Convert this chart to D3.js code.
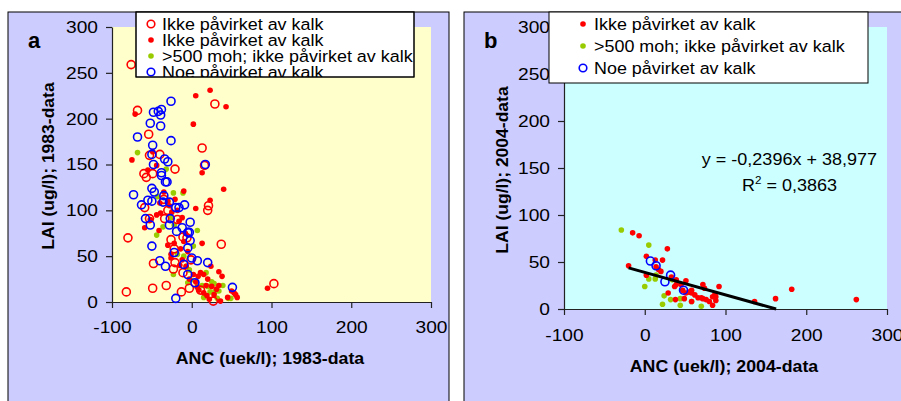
<!DOCTYPE html>
<html><head><meta charset="utf-8">
<script src="https://cdn.jsdelivr.net/npm/d3@7"></script>
<style>body{margin:0;background:#fff}svg{display:block}text{font-family:"Liberation Sans",Arial,sans-serif}</style>
</head><body>
<script>
// ---------- DATA ----------
const xTicks = [-100, 0, 100, 200, 300];
const yTicks = [0, 50, 100, 150, 200, 250, 300];
const legendA = ["Ikke påvirket av kalk", "Ikke påvirket av kalk", ">500 moh; ikke påvirket av kalk", "Noe påvirket av kalk"];
const legendB = ["Ikke påvirket av kalk", ">500 moh; ikke påvirket av kalk", "Noe påvirket av kalk"];
const trend = {slope: -0.2396, intercept: 38.977, xStart: -20};
const eqText = "y = -0,2396x + 38,977";
const r2Text = "0,3863";

// Panel a (1983)
const aRedOpen = [[-76,259],[-68,209],[-54,183],[13,168],[29,216],[-53,160],[-40,161],[16,149],[-21,145],[-60,140],[-57,136],[-49,140],[-59,103],[21,105],[20,100],[-53,91],[-34,91],[-18,90],[-80,70],[-26,68],[-11,71],[37,63],[-48,42],[-21,43],[-23,36],[-11,32],[-82,11],[-49,15],[-32,18],[-13,11],[-3,15],[103,20],[27,1],[11,13],[-1,46],[-30,100],[-35,112],[-22,58],[-6,70]];
const aRedFill = [[-71,205],[-75,155],[5,225],[23,231],[43,213],[2,194],[13,141],[40,123],[-10,121],[-21,112],[23,111],[5,102],[-44,95],[-39,97],[-59,81],[-41,78],[-12,92],[13,64],[-49,164],[-44,149],[-55,144],[-26,52],[-14,58],[-10,66],[-12,46],[-7,39],[11,32],[15,30],[24,39],[34,33],[5,22],[7,16],[9,13],[15,10],[19,7],[25,17],[36,1],[53,10],[57,5],[95,15],[38,28],[34,18],[31,14],[-22,64],[-26,48],[-28,105],[-25,98],[-16,88],[-35,120],[-30,110],[-18,100],[-8,75],[-5,55],[2,30],[8,28],[20,25],[28,8],[45,5],[50,12],[55,8],[-40,108],[-52,90],[-30,62],[-15,40],[-3,25],[18,18],[22,3]];
const aGreen = [[-68,163],[-32,145],[-43,115],[-23,119],[-11,119],[-44,73],[-36,82],[-26,92],[-22,84],[7,78],[2,61],[-18,52],[-23,30],[-7,39],[-1,24],[-5,21],[7,17],[13,18],[20,17],[28,20],[29,11],[39,18],[34,12],[49,4],[46,4],[32,4],[23,11],[18,32],[-30,110],[-10,50],[-3,35],[15,5],[25,22]];
const aBlue = [[-26,219],[-48,207],[-42,208],[-38,210],[-39,204],[-52,195],[-39,192],[-68,180],[-26,176],[-49,171],[-50,161],[-48,150],[-34,156],[-30,153],[17,150],[-38,141],[-38,138],[-33,131],[-31,131],[-73,117],[-50,124],[-47,120],[-63,106],[-55,111],[-50,110],[-35,116],[-36,109],[-28,109],[-20,103],[-16,103],[-9,106],[-58,91],[-52,84],[-27,91],[-28,84],[-19,77],[-12,81],[-5,76],[-3,76],[-2,87],[-2,67],[-50,61],[-22,54],[-5,59],[-40,45],[-33,39],[-10,41],[0,48],[7,45],[20,43],[-5,30],[4,21],[51,16],[-20,4]];

// Panel b (2004)
const bRed = [[-15,81],[-7,78],[-20,46],[2,56],[28,64],[22,52],[13,52],[2,36],[14,45],[20,40],[29,17],[51,30],[37,24],[39,26],[55,18],[58,17],[51,17],[72,26],[74,22],[92,24],[66,12],[70,12],[72,11],[76,10],[84,13],[88,13],[88,9],[84,4],[38,10],[49,11],[58,8],[136,8],[162,11],[182,21],[262,10],[47,20],[39,31],[58,20],[17,42],[45,26],[62,15],[80,8],[87,16],[33,34]];
const bGreen = [[-29,84],[5,68],[0,24],[5,32],[13,32],[14,36],[24,14],[22,5],[32,10],[44,11],[44,4],[58,8],[70,3],[34,31]];
const bBlue = [[7,51],[14,46],[25,29],[32,36],[48,20]];

// ---------- DRAW ----------
const RED = "#FF0000", GREEN = "#99CC00", BLUE = "#0000FF";
const SX = 1.13;    // horizontal stretch of the original's tick text
const SXL = 1.055;  // legend text stretch
const svg = d3.select("body").append("svg").attr("width", 901).attr("height", 401);
const defs = svg.append("defs");

function panel(cfg) {
  const g = svg.append("g");
  g.append("rect").attr("x", cfg.px).attr("y", 12).attr("width", cfg.pw).attr("height", 420)
    .attr("fill", "#CCCCFF").attr("stroke", "#000").attr("stroke-width", 1);
  const x = d3.scaleLinear().domain([-100, 300]).range([cfg.x0, cfg.x1]);
  const y = d3.scaleLinear().domain([0, 300]).range([cfg.yb, 27]);
  g.append("rect").attr("x", x(-100)).attr("y", y(300)).attr("width", x(300) - x(-100)).attr("height", y(0) - y(300))
    .attr("fill", cfg.bg);
  const fmt = d => String(d);
  const xa = g.append("g").attr("transform", `translate(0,${y(0)})`)
    .call(d3.axisBottom(x).tickValues(xTicks).tickFormat(fmt).tickSize(6).tickSizeOuter(0).tickPadding(cfg.xpad));
  const ya = g.append("g").attr("transform", `translate(${x(-100)},0)`)
    .call(d3.axisLeft(y).tickValues(yTicks).tickFormat(fmt).tickSize(6).tickSizeOuter(0).tickPadding(8));
  [xa, ya].forEach(a => {
    a.selectAll("path,line").attr("stroke", "#222").attr("stroke-width", 1.2);
    a.selectAll("text").attr("font-size", 17).attr("fill", "#000").attr("font-family", '"Liberation Sans",Arial,sans-serif');
  });
  xa.selectAll("text").attr("transform", `scale(${SX},1)`);
  ya.selectAll("text").attr("x", -14 / SX).attr("transform", `scale(${SX},1)`);
  g.append("text").attr("x", cfg.tx).attr("y", 48).text(cfg.tag)
    .attr("font-family", '"Liberation Serif","Times New Roman",serif').attr("font-weight", "bold").attr("font-size", 22);
  g.append("text").attr("transform", `translate(${cfg.xtx},${cfg.xty}) scale(1.045,1)`).attr("text-anchor", "middle")
    .attr("font-weight", "bold").attr("font-size", 17).text(cfg.xtitle);
  g.append("text").attr("transform", `translate(${cfg.ytx},${cfg.yty}) rotate(-90) scale(1.03,1)`).attr("text-anchor", "middle")
    .attr("dy", "0.35em").attr("font-weight", "bold").attr("font-size", 17).text(cfg.ytitle);
  return {g, x, y};
}

function openPts(p, data, color) {
  p.g.append("g").selectAll("circle").data(data).join("circle")
    .attr("cx", d => p.x(d[0])).attr("cy", d => p.y(d[1])).attr("r", 4)
    .attr("fill", "none").attr("stroke", color).attr("stroke-width", 1.6);
}
function fillPts(p, data, color) {
  p.g.append("g").selectAll("circle").data(data).join("circle")
    .attr("cx", d => p.x(d[0])).attr("cy", d => p.y(d[1])).attr("r", 2.8)
    .attr("fill", color);
}

// Panel a
const A = panel({px: 8, pw: 441, x0: 112, x1: 431, yb: 302, bg: "#FFFFCC", xpad: 13, tag: "a", tx: 28,
  xtitle: "ANC (uek/l); 1983-data", xtx: 270, xty: 364, ytitle: "LAI (ug/l); 1983-data", ytx: 48, yty: 166});
fillPts(A, aGreen, GREEN);
fillPts(A, aRedFill, RED);
openPts(A, aRedOpen, RED);
openPts(A, aBlue, BLUE);

// Panel b
const B = panel({px: 464, pw: 440, x0: 564, x1: 887, yb: 309, bg: "#CCFFFF", xpad: 14, tag: "b", tx: 484,
  xtitle: "ANC (uek/l); 2004-data", xtx: 724, xty: 372, ytitle: "LAI (ug/l); 2004-data", ytx: 502, yty: 170});
fillPts(B, bGreen, GREEN);
fillPts(B, bRed, RED);
openPts(B, bBlue, BLUE);
const xEnd = -trend.intercept / trend.slope;
B.g.append("line")
  .attr("x1", B.x(trend.xStart)).attr("y1", B.y(trend.intercept + trend.slope * trend.xStart))
  .attr("x2", B.x(xEnd)).attr("y2", B.y(0))
  .attr("stroke", "#000").attr("stroke-width", 3);
B.g.append("text").attr("transform", "translate(877,165) scale(1.06,1)").attr("text-anchor", "end").attr("font-size", 17).text(eqText);
const r2 = B.g.append("text").attr("transform", "translate(742,191) scale(1.06,1)").attr("font-size", 17);
r2.append("tspan").text("R");
r2.append("tspan").attr("font-size", 11).attr("dy", -7).text("2");
r2.append("tspan").attr("dy", 7).text(" = " + r2Text);

// Legend a (clipped box)
defs.append("clipPath").attr("id", "clipA").append("rect").attr("x", 136).attr("y", 12).attr("width", 278).attr("height", 65);
const LA = svg.append("g");
LA.append("rect").attr("x", 136).attr("y", 12).attr("width", 278).attr("height", 65).attr("fill", "#fff").attr("stroke", "#000").attr("stroke-width", 1);
const LAc = LA.append("g").attr("clip-path", "url(#clipA)");
const laStyles = [["open", RED], ["fill", RED], ["fill", GREEN], ["open", BLUE]];
legendA.forEach((t, i) => {
  const by = 30 + i * 16;
  const [k, c] = laStyles[i];
  if (k === "open") LAc.append("circle").attr("cx", 151).attr("cy", by - 6).attr("r", 3.8).attr("fill", "none").attr("stroke", c).attr("stroke-width", 1.6);
  else LAc.append("circle").attr("cx", 151).attr("cy", by - 6).attr("r", 2.8).attr("fill", c);
  LAc.append("text").attr("transform", `translate(162,${by}) scale(${SXL},1)`).attr("font-size", 17).text(t);
});
LA.append("rect").attr("x", 136).attr("y", 12).attr("width", 278).attr("height", 65).attr("fill", "none").attr("stroke", "#000").attr("stroke-width", 1);

// Legend b
const LB = svg.append("g");
LB.append("rect").attr("x", 549).attr("y", 12).attr("width", 319).attr("height", 71).attr("fill", "#fff").attr("stroke", "#000").attr("stroke-width", 1);
const lbStyles = [["fill", RED], ["fill", GREEN], ["open", BLUE]];
legendB.forEach((t, i) => {
  const by = 30 + i * 22;
  const [k, c] = lbStyles[i];
  if (k === "open") LB.append("circle").attr("cx", 583).attr("cy", by - 6).attr("r", 3.8).attr("fill", "none").attr("stroke", c).attr("stroke-width", 1.6);
  else LB.append("circle").attr("cx", 583).attr("cy", by - 6).attr("r", 2.8).attr("fill", c);
  LB.append("text").attr("transform", `translate(594,${by}) scale(${SXL},1)`).attr("font-size", 17).text(t);
});
</script>
</body></html>
